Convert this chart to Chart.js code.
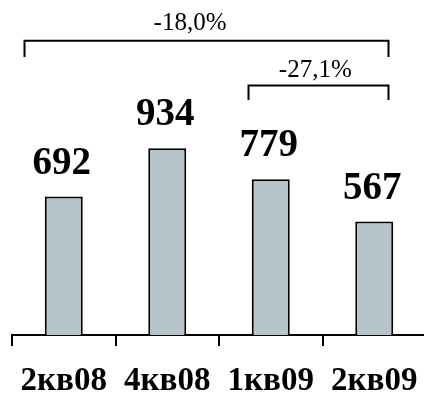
<!DOCTYPE html>
<html>
<head>
<meta charset="utf-8">
<script src="https://cdn.jsdelivr.net/npm/chart.js@4/dist/chart.umd.min.js"></script>
<style>
html,body{margin:0;padding:0;background:#fff;overflow:hidden;}
#wrap{width:424px;height:394px;overflow:hidden;position:relative;}
#box{width:426px;height:417px;position:absolute;left:0;top:0;}
</style>
</head>
<body>
<div id="wrap"><div id="box"><canvas id="c"></canvas></div></div>
<script>
const categories = ['2кв08', '4кв08', '1кв09', '2кв09'];
const values = [692, 934, 779, 567];
const changeLabels = ['-18,0%', '-27,1%'];

const overlay = {
  id: 'overlay',
  afterDatasetsDraw(chart) {
    const ctx = chart.ctx;
    const xs = chart.scales.x, ys = chart.scales.y;
    const meta = chart.getDatasetMeta(0);
    ctx.save();
    ctx.fillStyle = '#000';
    ctx.textAlign = 'center';
    ctx.textBaseline = 'alphabetic';
    ctx.font = 'bold 39px "Liberation Serif"';
    meta.data.forEach((bar, i) => {
      ctx.fillText(String(values[i]), bar.x - 2, bar.y - 23);
    });
    const X = v => xs.getPixelForValue(v);
    const Y = v => ys.getPixelForValue(v);
    ctx.strokeStyle = '#000';
    ctx.lineWidth = 2;
    const brackets = [
      {from: -0.386, to: 3.135, top: 1471, bottom: 1390, tx: 1.22, ty: 1560, label: changeLabels[0]},
      {from: 1.78, to: 3.135, top: 1247, bottom: 1175, tx: 2.43, ty: 1325, label: changeLabels[1]}
    ];
    ctx.font = '25px "Liberation Serif"';
    ctx.textBaseline = 'middle';
    brackets.forEach(b => {
      ctx.beginPath();
      ctx.moveTo(Math.round(X(b.from)) + 0.5, Y(b.bottom));
      ctx.lineTo(Math.round(X(b.from)) + 0.5, Y(b.top));
      ctx.lineTo(Math.round(X(b.to)) + 0.5, Y(b.top));
      ctx.lineTo(Math.round(X(b.to)) + 0.5, Y(b.bottom));
      ctx.stroke();
      ctx.fillText(b.label, X(b.tx), Y(b.ty));
    });
    ctx.restore();
  }
};

new Chart(document.getElementById('c'), {
  type: 'bar',
  data: {
    labels: categories,
    datasets: [{
      data: values,
      backgroundColor: '#b7c5cb',
      borderColor: '#000',
      borderWidth: 2,
      borderSkipped: 'bottom',
      barPercentage: 0.367,
      categoryPercentage: 1
    }]
  },
  options: {
    responsive: true,
    maintainAspectRatio: false,
    animation: false,
    events: [],
    layout: {padding: {left: 12, right: 0, top: 0, bottom: 0}},
    plugins: {legend: {display: false}, tooltip: {enabled: false}},
    scales: {
      x: {
        offset: true,
        grid: {display: true, offset: true, drawOnChartArea: false, drawTicks: true, tickLength: 11, color: '#000', lineWidth: 2},
        border: {display: true, color: '#000', width: 2},
        ticks: {color: '#000', padding: 3, font: {family: '"Liberation Serif"', weight: 'bold', size: 33, lineHeight: 1.97}}
      },
      y: {
        display: false,
        min: 0,
        max: 1675
      }
    }
  },
  plugins: [overlay]
});
</script>
</body>
</html>
